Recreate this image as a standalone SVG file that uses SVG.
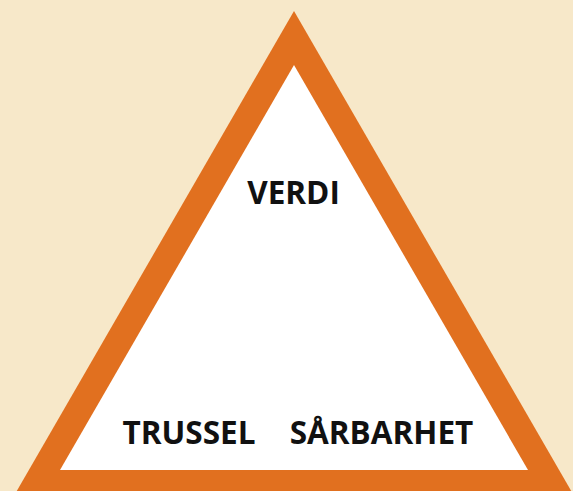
<svg xmlns="http://www.w3.org/2000/svg" width="573" height="491" viewBox="0 0 573 491">
  <style>
    .lbl { font-family: "Open Sans", "Noto Sans", "Liberation Sans", sans-serif; font-weight: 700; font-size: 31.5px; fill: #111111; text-anchor: middle; }
  </style>
  <rect x="0" y="0" width="573" height="491" fill="#F7E8C9"/>
  <g id="triangle">
    <polygon points="294,11 0,520 588,520" fill="#E1701F"/>
    <polygon points="294,65 60,470 528,470" fill="#FFFFFF"/>
  </g>
  <g id="verdi"><text class="lbl" x="293.5" y="204">VERDI</text></g>
  <g id="trussel"><text class="lbl" x="189" y="444">TRUSSEL</text></g>
  <g id="sarbarhet"><text class="lbl" x="381.5" y="444">SÅRBARHET</text></g>
  <g id="connectors"></g>
</svg>
